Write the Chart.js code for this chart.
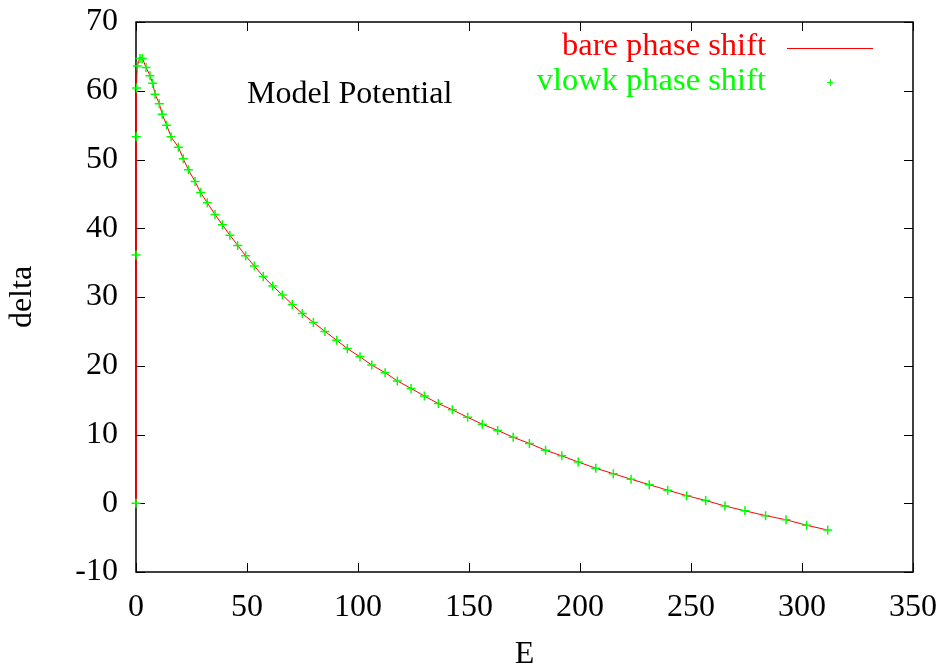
<!DOCTYPE html>
<html lang="en">
<head>
    <meta charset="UTF-8">
    <title>Model Potential</title>
    <style>
        body {
            margin: 0;
            padding: 0;
            background-color: white;
        }
        #wrap {
            width: 944px;
            height: 667px;
        }
    </style>
</head>
<body>
    <div id="wrap"><canvas id="phaseChart" width="944" height="667"></canvas></div>

    <script src="https://cdn.jsdelivr.net/npm/chart.js"></script>
    <script>
        // energies E and phase shifts delta
        const energies = [0, 0.05, 0.12, 0.3, 0.6, 1.8, 2.8, 4.5, 6.3, 7.5,
            8.6, 10.5, 11.8, 13.8, 15.8, 19.1, 21.3, 23.6, 26.6, 29.1,
            32.1, 35.6, 38.9, 42.3, 45.8, 49.4, 53.3, 57.3, 61.6, 65.9,
            70.4, 74.9, 79.9, 85.1, 90.4, 95.2, 100.9, 106.2, 112.2, 117.7,
            123.9, 129.9, 136.2, 142.5, 149.4, 156.0, 162.9, 169.9, 177.2, 184.5,
            191.8, 199.2, 207.1, 215.0, 223.0, 231.2, 239.5, 248.1, 256.6, 265.3,
            274.3, 283.6, 292.8, 302.1, 311.6];
        const bareDelta = [0, 36.1, 53.3, 60.4, 63.6, 64.9, 64.8, 63.4, 62.2, 61.1,
            59.5, 58.1, 56.6, 55.0, 53.3, 51.8, 50.1, 48.5, 46.8, 45.2,
            43.7, 42.0, 40.5, 39.0, 37.5, 36.0, 34.5, 33.0, 31.6, 30.3,
            28.9, 27.6, 26.3, 25.0, 23.7, 22.5, 21.3, 20.1, 19.0, 17.8,
            16.7, 15.6, 14.5, 13.6, 12.5, 11.5, 10.6, 9.6, 8.7, 7.7,
            6.9, 6.0, 5.1, 4.3, 3.5, 2.7, 1.9, 1.1, 0.4, -0.4,
            -1.1, -1.8, -2.4, -3.2, -3.9];
        const vlowkDelta = [0, 36.1, 53.3, 60.4, 63.6, 64.7, 64.7, 63.4, 62.2, 61.1,
            59.5, 58.1, 56.6, 55.0, 53.3, 51.8, 50.1, 48.5, 46.8, 45.2,
            43.7, 42.0, 40.5, 39.0, 37.5, 36.0, 34.5, 33.0, 31.6, 30.3,
            28.9, 27.6, 26.3, 25.0, 23.7, 22.5, 21.3, 20.1, 19.0, 17.8,
            16.7, 15.6, 14.5, 13.6, 12.5, 11.5, 10.6, 9.6, 8.7, 7.7,
            6.9, 6.0, 5.1, 4.3, 3.5, 2.7, 1.9, 1.1, 0.4, -0.4,
            -1.1, -1.8, -2.4, -3.2, -3.9];
        const xTicks = [0, 50, 100, 150, 200, 250, 300, 350];
        const yTicks = [-10, 0, 10, 20, 30, 40, 50, 60, 70];
        const seriesNames = ['bare phase shift', 'vlowk phase shift'];
        const plotLabel = 'Model Potential';

        const FONT = 'Liberation Serif, Times New Roman, serif';

        // gnuplot-like frame: box plus inward ticks on all four sides
        const framePlugin = {
            id: 'frame',
            beforeDatasetsDraw(chart) {
                const { ctx, chartArea: a, scales } = chart;
                ctx.save();
                ctx.strokeStyle = '#000';
                ctx.lineWidth = 1;
                const len = 9;
                ctx.beginPath();
                xTicks.forEach(v => {
                    const px = Math.round(scales.x.getPixelForValue(v)) + 0.5;
                    ctx.moveTo(px, a.bottom); ctx.lineTo(px, a.bottom - len);
                    ctx.moveTo(px, a.top); ctx.lineTo(px, a.top + len);
                });
                yTicks.forEach(v => {
                    const py = Math.round(scales.y.getPixelForValue(v)) + 0.5;
                    ctx.moveTo(a.left, py); ctx.lineTo(a.left + len, py);
                    ctx.moveTo(a.right, py); ctx.lineTo(a.right - len, py);
                });
                ctx.stroke();
                ctx.lineWidth = 1.5;
                ctx.strokeRect(a.left, a.top, a.right - a.left, a.bottom - a.top);
                ctx.restore();
            },
            afterDraw(chart) {
                const { ctx } = chart;
                const ds = chart.data.datasets;
                ctx.save();
                ctx.font = '32px ' + FONT;
                ctx.fillStyle = '#000';
                ctx.textAlign = 'left';
                ctx.textBaseline = 'alphabetic';
                ctx.fillText(plotLabel, 247, 103);

                // legend, text right-aligned with sample on the right
                ctx.font = '32.5px ' + FONT;
                ctx.textAlign = 'right';
                ctx.fillStyle = ds[0].borderColor;
                ctx.fillText(ds[0].label, 766, 55);
                ctx.strokeStyle = ds[0].borderColor;
                ctx.lineWidth = 1;
                ctx.beginPath();
                ctx.moveTo(787, 48.5); ctx.lineTo(873, 48.5);
                ctx.stroke();

                ctx.fillStyle = ds[1].borderColor;
                ctx.fillText(ds[1].label, 766, 90);
                ctx.strokeStyle = ds[1].borderColor;
                ctx.beginPath();
                ctx.moveTo(827, 82.5); ctx.lineTo(833, 82.5);
                ctx.moveTo(830.5, 79); ctx.lineTo(830.5, 86);
                ctx.stroke();
                ctx.restore();
            }
        };

        const ctx = document.getElementById('phaseChart').getContext('2d');
        new Chart(ctx, {
            type: 'scatter',
            data: {
                datasets: [{
                    label: seriesNames[0],
                    data: energies.map((e, i) => ({ x: e, y: bareDelta[i] })),
                    showLine: true,
                    borderColor: '#ff0000',
                    borderWidth: 1,
                    pointRadius: 0,
                    tension: 0,
                    clip: false,
                    order: 1
                }, {
                    label: seriesNames[1],
                    data: energies.map((e, i) => ({ x: e, y: vlowkDelta[i] })),
                    showLine: false,
                    borderColor: '#00ff00',
                    backgroundColor: '#00ff00',
                    pointStyle: 'cross',
                    pointRadius: 4.5,
                    pointBorderWidth: 1.5,
                    clip: false,
                    order: 0
                }]
            },
            options: {
                responsive: false,
                animation: false,
                events: [],
                layout: {
                    padding: { left: 0, right: 31, top: 22, bottom: 0 }
                },
                plugins: {
                    legend: { display: false },
                    tooltip: { enabled: false }
                },
                scales: {
                    x: {
                        type: 'linear',
                        min: 0,
                        max: 350,
                        afterFit: s => {
                            s.height = 95;
                            s.paddingLeft = 0;
                            s.paddingRight = 0;
                        },
                        afterBuildTicks: s => { s.ticks = xTicks.map(v => ({ value: v })); },
                        grid: { display: false, drawTicks: false },
                        border: { display: false },
                        ticks: {
                            color: '#000',
                            padding: 16,
                            maxRotation: 0,
                            font: { family: FONT, size: 32 }
                        },
                        title: {
                            display: true,
                            text: 'E',
                            color: '#000',
                            font: { family: FONT, size: 32, lineHeight: 0.8 },
                            padding: 0
                        }
                    },
                    y: {
                        type: 'linear',
                        min: -10,
                        max: 70,
                        afterFit: s => {
                            s.width = 136;
                            s.paddingTop = 0;
                            s.paddingBottom = 0;
                        },
                        afterBuildTicks: s => { s.ticks = yTicks.map(v => ({ value: v })); },
                        grid: { display: false, drawTicks: false },
                        border: { display: false },
                        ticks: {
                            color: '#000',
                            padding: 18,
                            font: { family: FONT, size: 32 }
                        },
                        title: {
                            display: true,
                            text: 'delta',
                            color: '#000',
                            font: { family: FONT, size: 32 },
                            padding: { top: 3, bottom: 0 }
                        }
                    }
                }
            },
            plugins: [framePlugin]
        });
    </script>
</body>
</html>
